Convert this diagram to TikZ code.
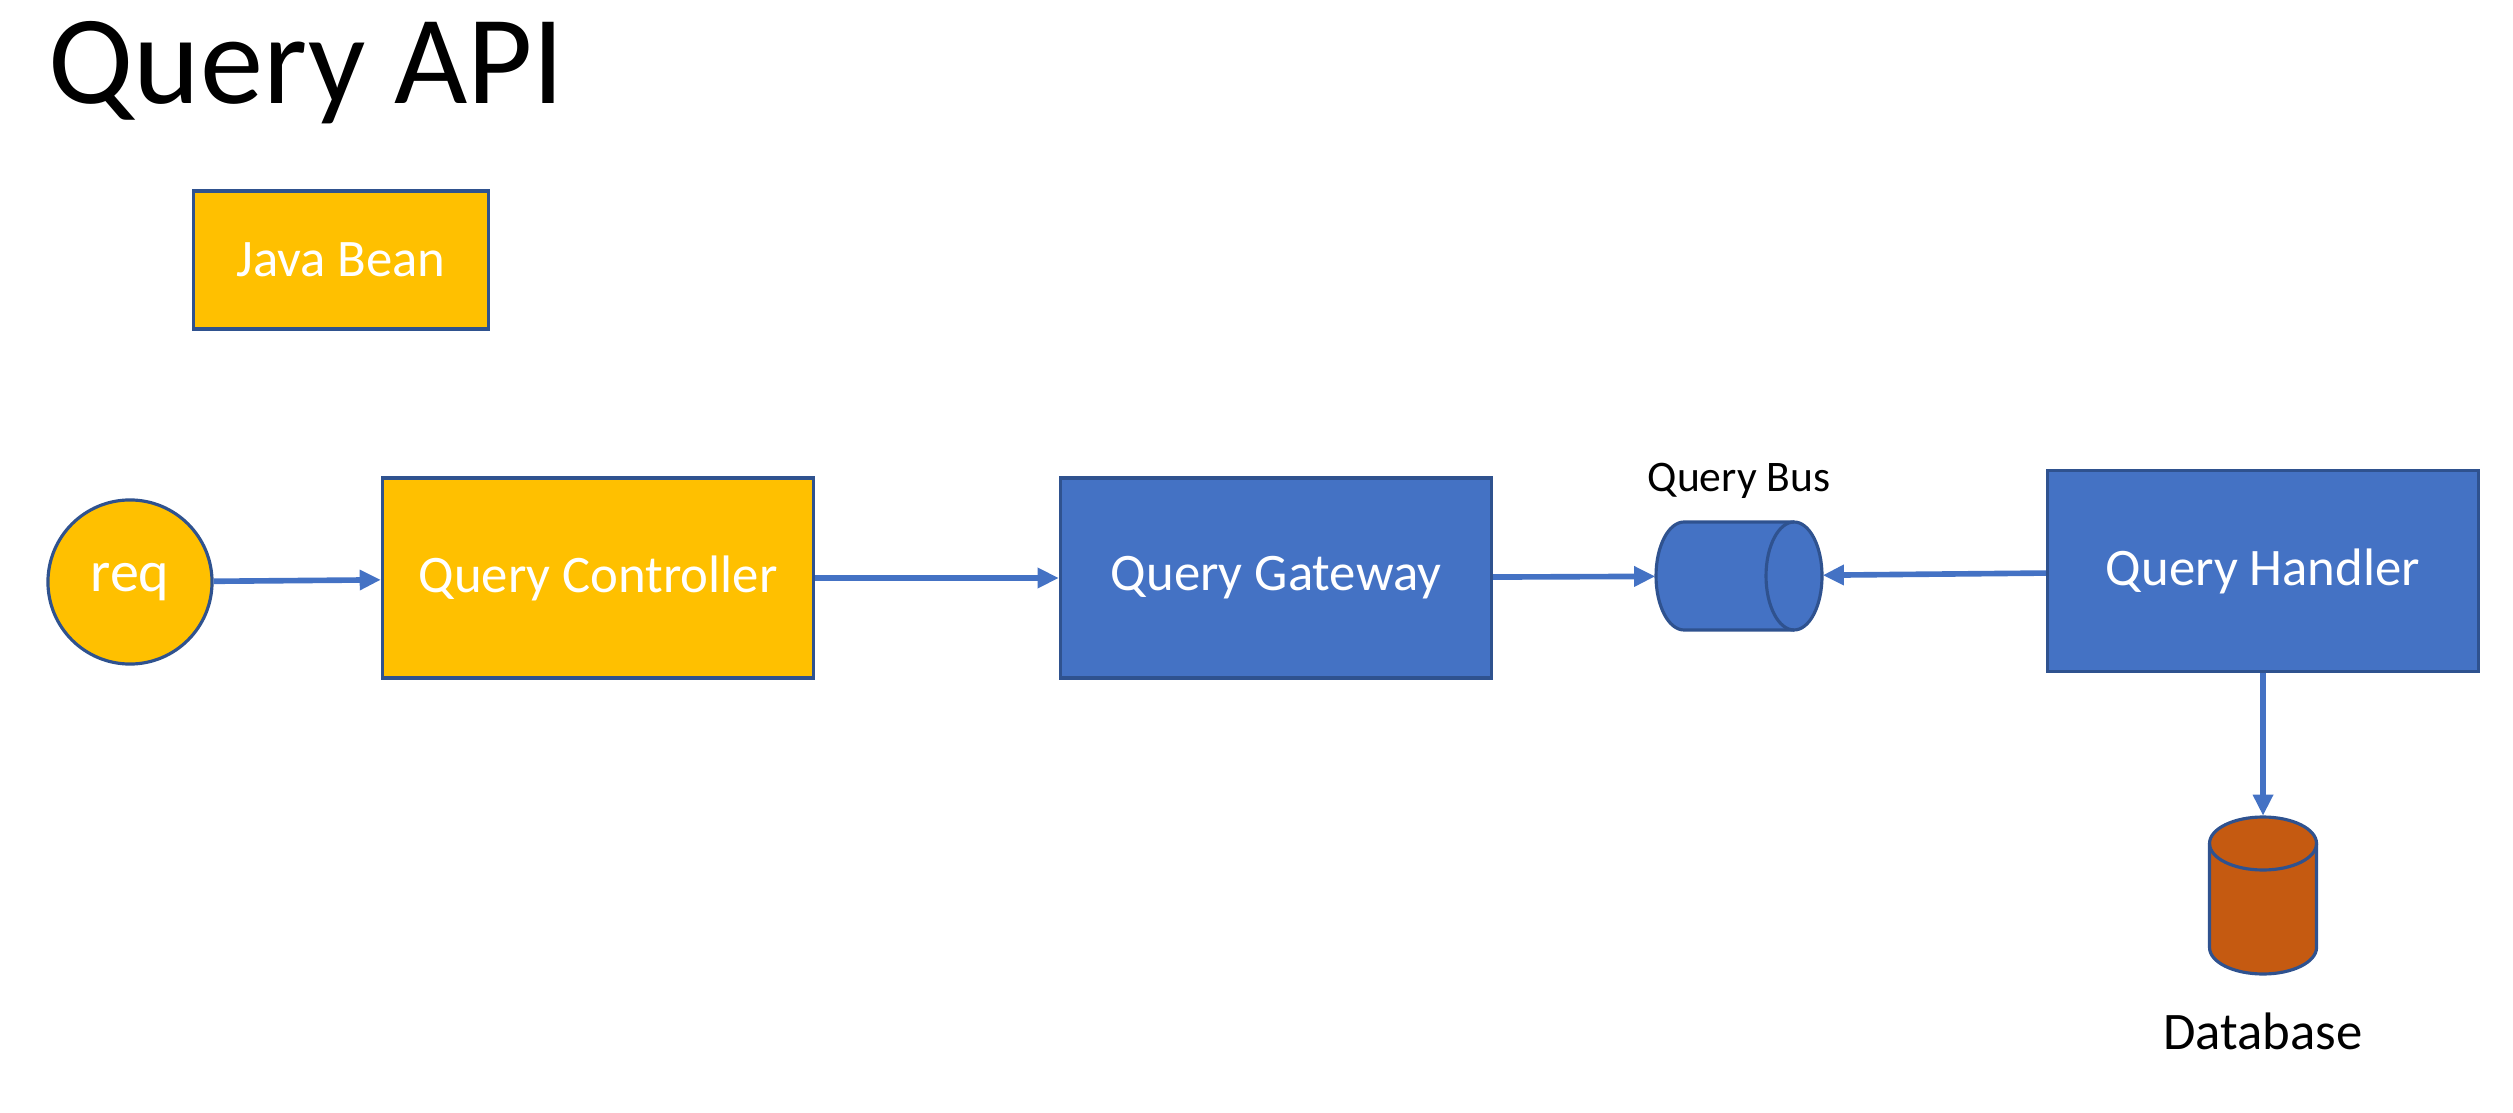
\documentclass[tikz,border=0pt]{standalone}
\usepackage{fontspec}
\setmainfont{Carlito}
\usetikzlibrary{positioning, shapes.geometric, arrows.meta}

\definecolor{beanyellow}{HTML}{FFC000}
\definecolor{busblue}{HTML}{4472C4}
\definecolor{edgeblue}{HTML}{2F528F}
\definecolor{dborange}{HTML}{C55A11}

\tikzset{
  box/.style={draw=edgeblue, line width=0.9pt, minimum width=4.31cm, minimum height=2cm,
    text=white, font=\fontsize{15}{18}\selectfont},
  bean/.style={box, fill=beanyellow},
  service/.style={box, fill=busblue},
  store/.style={draw=edgeblue, line width=0.9pt, line join=round},
  conn/.style={-{Triangle[length=6pt,width=5.5pt]}, draw=busblue, line width=1.6pt},
  lbl/.style={inner sep=0pt, text=black},
}

\begin{document}
\begin{tikzpicture}[x=0.01cm, y=-0.01cm]
  \useasboundingbox (0,0) rectangle (2513,1113);
  \node[anchor=base west, inner sep=0pt, font=\fontsize{36}{43}\selectfont] (title) at (48,104) {Query API};
  \node[bean, minimum width=2.95cm, minimum height=1.38cm] (jbean) at (341,260) {Java Bean};
  % request flow
  \node[bean, circle, minimum size=1.64cm, inner sep=0pt, font=\fontsize{16.5}{19}\selectfont] (req) at (130,582) {req};
  \node[bean] (ctrl) at (598,578) {Query Controller};
  \node[service] (gw) at (1276,578) {Query Gateway};
  \node[service, minimum height=2.01cm] (handler) at (2263,571) {Query Handler};
  % query bus (horizontal cylinder)
  \node[minimum width=1.66cm, minimum height=1.08cm, inner sep=0pt] (bus) at (1739,576) {};
  \draw[store, fill=busblue] (1684,522) -- (1794,522)
    arc[start angle=-90, end angle=90, x radius=28, y radius=54] -- (1684,630)
    arc[start angle=90, end angle=270, x radius=28, y radius=54] -- cycle;
  \draw[store] (1794,630) arc[start angle=90, end angle=270, x radius=28, y radius=54];
  \node[lbl, above=0.22cm of bus, font=\fontsize{12.4}{15}\selectfont] (buslbl) {Query Bus};
  % database (vertical cylinder)
  \node[minimum width=1.07cm, minimum height=1.57cm, inner sep=0pt] (db) at (2263,895) {};
  \draw[store, fill=dborange] (2209.5,843.5) -- (2209.5,947.5)
    arc[start angle=180, end angle=0, x radius=53.5, y radius=26.5] -- (2316.5,843.5)
    arc[start angle=0, end angle=-180, x radius=53.5, y radius=26.5] -- cycle;
  \draw[store] (2209.5,843.5) arc[start angle=180, end angle=0, x radius=53.5, y radius=26.5];
  \node[lbl, below=0.38cm of db, font=\fontsize{15}{18}\selectfont] (dblbl) {Database};
  \draw[conn] (req) -- (ctrl);
  \draw[conn] (ctrl.east) -- (gw.west);
  \draw[conn] (gw) -- (bus);
  \draw[conn] (handler) -- (bus);
  \draw[conn] (handler.south) -- (db);
\end{tikzpicture}
\end{document}
